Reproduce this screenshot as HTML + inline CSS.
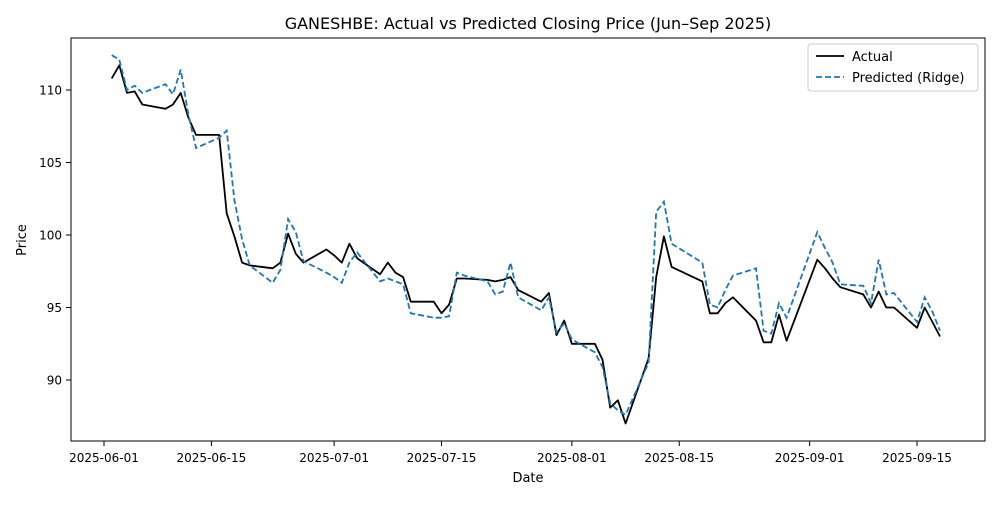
<!DOCTYPE html>
<html><head><meta charset="utf-8"><style>
body{margin:0;background:#fff;font-family:"Liberation Sans","DejaVu Sans",sans-serif}
svg text{font-family:"DejaVu Sans","Liberation Sans",sans-serif}
</style></head><body>
<svg id="chart" width="1000" height="500" xmlns="http://www.w3.org/2000/svg">
<rect width="1000" height="500" fill="#fff"/>
<text x="528" y="29" font-size="16" text-anchor="middle">GANESHBE: Actual vs Predicted Closing Price (Jun–Sep 2025)</text>
<text x="528" y="482" font-size="13" text-anchor="middle">Date</text>
<text x="26" y="240" font-size="13" text-anchor="middle" transform="rotate(-90 26 240)">Price</text>
<g id="ticks"></g>
<g id="series"></g>
<rect x="71" y="38" width="914" height="403" fill="none" stroke="#000" stroke-width="1"/>
<g>
<rect x="808" y="44" width="170" height="47" rx="3" fill="#fff" stroke="#ccc"/>
<line x1="816" y1="56" x2="844" y2="56" stroke="#000" stroke-width="1.8"/>
<text x="852" y="61" font-size="13">Actual</text>
<line x1="816" y1="77" x2="844" y2="77" stroke="#1f77b4" stroke-width="1.8" stroke-dasharray="6,3"/>
<text x="852" y="82" font-size="13">Predicted (Ridge)</text>
</g>
</svg>
<script>
const dates=["06-02","06-03","06-04","06-05","06-06","06-09","06-10","06-11","06-12","06-13","06-16","06-17","06-18","06-19","06-20","06-23","06-24","06-25","06-26","06-27","06-30","07-01","07-02","07-03","07-04","07-07","07-08","07-09","07-10","07-11","07-14","07-15","07-16","07-17","07-18","07-21","07-22","07-23","07-24","07-25","07-28","07-29","07-30","07-31","08-01","08-04","08-05","08-06","08-07","08-08","08-11","08-12","08-13","08-14","08-18","08-19","08-20","08-21","08-22","08-25","08-26","08-27","08-28","08-29","09-02","09-03","09-04","09-05","09-08","09-09","09-10","09-11","09-12","09-15","09-16","09-17","09-18"];
const actual=[110.8,111.7,109.8,109.9,109.0,108.7,109.0,109.8,108.1,106.9,106.9,101.5,99.9,98.1,97.9,97.7,98.1,100.1,98.7,98.1,99.0,98.6,98.1,99.4,98.4,97.3,98.1,97.4,97.1,95.4,95.4,94.6,95.2,97.0,97.0,96.9,96.8,96.9,97.1,96.2,95.4,96.0,93.1,94.1,92.5,92.5,91.4,88.1,88.6,87.0,91.5,97.1,99.9,97.8,96.8,94.6,94.6,95.3,95.7,94.1,92.6,92.6,94.5,92.7,98.3,97.7,97.0,96.4,95.9,95.0,96.1,95.0,95.0,93.6,95.0,94.0,93.0];
const predicted=[112.4,112.1,110.0,110.3,109.8,110.4,109.7,111.4,108.3,106.0,106.7,107.2,102.4,99.7,97.9,96.7,97.6,101.1,100.2,98.2,97.4,97.1,96.7,98.1,98.8,96.8,97.0,96.8,96.6,94.6,94.3,94.3,94.4,97.4,97.2,96.8,95.9,96.1,98.1,95.7,94.8,95.7,93.3,93.9,92.8,91.9,90.9,88.4,87.9,87.6,91.2,101.6,102.3,99.4,98.1,95.2,95.0,96.2,97.2,97.7,93.4,93.2,95.3,94.3,100.2,99.1,98.1,96.6,96.5,95.3,98.3,95.9,96.0,94.0,95.7,94.7,93.4];
const yTicks=[90,95,100,105,110];
const xTicks=["2025-06-01","2025-06-15","2025-07-01","2025-07-15","2025-08-01","2025-08-15","2025-09-01","2025-09-15"];
const NS="http://www.w3.org/2000/svg";
const t0=Date.UTC(2025,5,1);
function dayOf(s){const p=s.split("-");const n=p.length===3?p.slice(1):p;return (Date.UTC(2025,+n[0]-1,+n[1])-t0)/864e5;}
function xs(s){return 104+7.67*dayOf(s);}
function ys(v){return 90+(110-v)*14.5;}
const tg=document.getElementById("ticks");
function mk(tag,attrs,parent){const e=document.createElementNS(NS,tag);for(const k in attrs)e.setAttribute(k,attrs[k]);parent.appendChild(e);return e;}
yTicks.forEach(v=>{
 const y=ys(v);
 const l=mk("line",{x1:66,x2:71,y1:y,y2:y,stroke:"#000"},tg);
 
 
 const t=mk("text",{x:62,y:y+4.5,"font-size":12,"text-anchor":"end"},tg);
 
 
 t.textContent=v;
});
xTicks.forEach(s=>{
 const x=xs(s);
 const l=mk("line",{x1:x,x2:x,y1:441,y2:446,stroke:"#000"},tg);
 
 
 const t=mk("text",{x:x,y:462,"font-size":12,"text-anchor":"middle"},tg);
 
 
 t.textContent=s;
});
const sg=document.getElementById("series");
function pts(arr){return arr.map((v,i)=>xs(dates[i]).toFixed(1)+","+ys(v).toFixed(1)).join(" ");}
const la=mk("polyline",{points:pts(actual),fill:"none",stroke:"#000","stroke-width":1.8,"stroke-linejoin":"round"},sg);


const lp=mk("polyline",{points:pts(predicted),fill:"none",stroke:"#1f77b4","stroke-width":1.8,"stroke-dasharray":"6,3"},sg);


</script>
</body></html>
